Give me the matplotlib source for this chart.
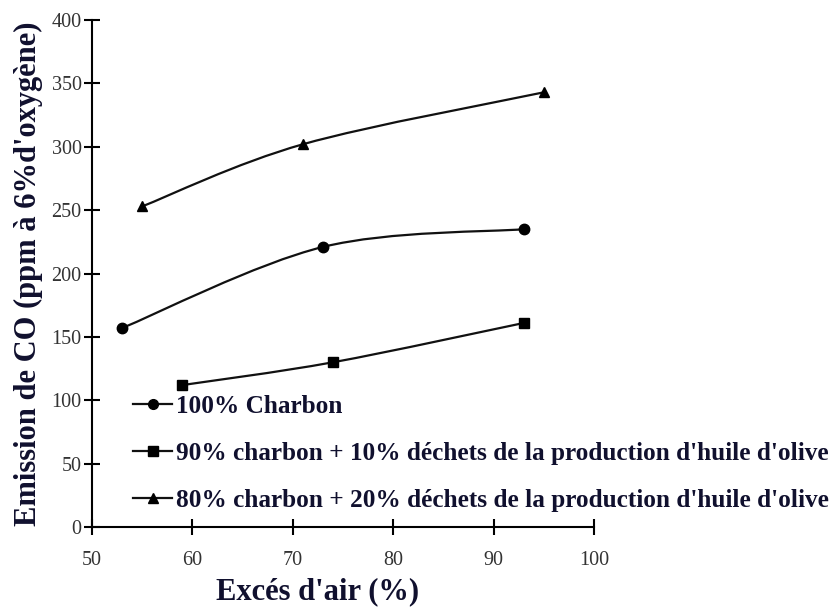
import numpy as np
import matplotlib.pyplot as plt
from matplotlib.path import Path
from matplotlib.patches import PathPatch
from matplotlib.lines import Line2D

plt.rcParams['font.family'] = ['Liberation Serif', 'DejaVu Serif']

# data
x_charbon = [53, 73, 93]
y_charbon = [157, 221, 235]
x_90 = [59, 74, 93]
y_90 = [112, 130, 161]
x_80 = [55, 71, 95]
y_80 = [253, 302, 343]

labels = ["100% Charbon",
          "90% charbon + 10% déchets de la production d'huile d'olive",
          "80% charbon + 20% déchets de la production d'huile d'olive"]
markers = ['o', 's', '^']

text_col = '#10102e'


def smooth_path(xs, ys):
    # Catmull-Rom through the points, drawn as cubic Bezier segments
    p = np.column_stack([xs, ys]).astype(float)
    ext = np.vstack([p[0], p, p[-1]])
    verts = [p[0]]
    codes = [Path.MOVETO]
    for i in range(len(p) - 1):
        p0, p1, p2, p3 = ext[i], ext[i + 1], ext[i + 2], ext[i + 3]
        verts += [p1 + (p2 - p0) / 6, p2 - (p3 - p1) / 6, p2]
        codes += [Path.CURVE4] * 3
    return Path(verts, codes)


fig = plt.figure(figsize=(8.39, 6.08), dpi=100)
ax = fig.add_axes([0.1097, 0.1332, 0.5984, 0.8338])

handles = []
sizes = {'o': 7.5, 's': 7, '^': 7.5}
for xs, ys, m, lab in zip([x_charbon, x_90, x_80], [y_charbon, y_90, y_80], markers, labels):
    ax.add_patch(PathPatch(smooth_path(xs, ys), fill=False, lw=1.6, ec='#111111'))
    ax.plot(xs, ys, linestyle='none', marker=m, ms=sizes[m], color='black')
    handles.append(Line2D([], [], color='#111111', lw=1.6, marker=m, ms=sizes[m] - 0.5,
                          markerfacecolor='black', markeredgecolor='black'))

ax.set_xlim(50, 100)
ax.set_ylim(0, 400)
ax.set_xticks(range(50, 101, 10))
ax.set_yticks(range(0, 401, 50))
for s in ['top', 'right']:
    ax.spines[s].set_visible(False)
for s in ['left', 'bottom']:
    ax.spines[s].set_linewidth(1.5)
ax.tick_params(direction='inout', length=11, width=1.5, labelsize=14.5, labelcolor='#333333')
ax.tick_params(axis='y', pad=2)
ax.tick_params(axis='x', pad=12)

# x label sits left of the axes centre in the original
fig.text(318 / 839, 9 / 608, "Excés d'air (%)", fontsize=22, fontweight='bold',
         color=text_col, ha='center', va='baseline')
ax.set_ylabel("Emission de CO (ppm à 6%d'oxygène)", fontsize=22, fontweight='bold',
              color=text_col, labelpad=6)

leg = ax.legend(handles, labels, loc='lower left', bbox_to_anchor=(0.082, 0.03),
                frameon=False, fontsize=18.2, handlelength=1.55, handletextpad=0.15,
                labelspacing=0.95, borderpad=0, borderaxespad=0)
for t in leg.get_texts():
    t.set_fontweight('bold')
    t.set_color(text_col)

fig.savefig('out.png', dpi=100)
